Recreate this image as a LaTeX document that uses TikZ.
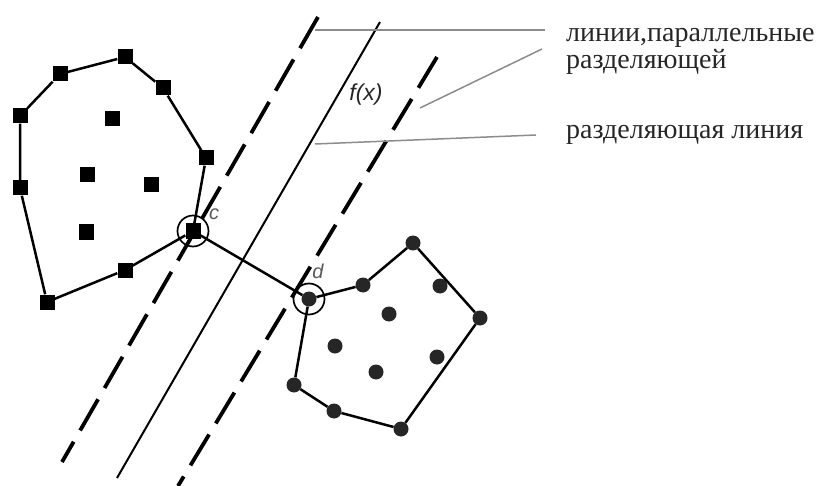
\documentclass[tikz,border=0pt]{standalone}
\usepackage{fontspec}
\setmainfont{Liberation Serif}
\newfontfamily\lblfont{Liberation Sans}
\usetikzlibrary{positioning}

\begin{document}
\begin{tikzpicture}[
  x=1pt, y=-1pt,
  sq/.style={fill=black, rectangle, minimum size=15pt, inner sep=0pt},
  dot/.style={fill=black!85, circle, minimum size=15pt, inner sep=0pt},
  ring/.style={draw, circle, line width=1.7pt, minimum size=31pt, inner sep=0pt},
  hull/.style={line width=2.5pt},
  sep/.style={line width=2pt},
  par/.style={line width=3.8pt, dash pattern=on 36pt off 13pt},
  lead/.style={line width=1.5pt, black!45},
  txt/.style={font=\fontsize{28}{30}\selectfont, anchor=base west, inner sep=0pt, text=black!85},
  lbl/.style={font=\lblfont\itshape\fontsize{20}{22}\selectfont, inner sep=0pt, text=black!65}
]
\useasboundingbox (0,0) rectangle (826,486);

% left class (squares)
\node[sq] (a1) at (125,57) {};
\node[sq] (a2) at (163,88) {};
\node[sq] (a3) at (206,158) {};
\node[sq] (c)  at (193,231) {};
\node[sq] (a5) at (125,270) {};
\node[sq] (a6) at (47,302) {};
\node[sq] (a7) at (20,188) {};
\node[sq] (a8) at (20,116) {};
\node[sq] (a9) at (60,74) {};
\node[sq] (ai1) at (112,119) {};
\node[sq] (ai2) at (87,175) {};
\node[sq] (ai3) at (151,185) {};
\node[sq] (ai4) at (86,232) {};

% right class (dots)
\node[dot] (d)  at (309,299) {};
\node[dot] (b2) at (363,285) {};
\node[dot] (b3) at (413,243) {};
\node[dot] (b4) at (480,318) {};
\node[dot] (b5) at (401,429) {};
\node[dot] (b6) at (334,411) {};
\node[dot] (b7) at (294,385) {};
\node[dot] (bi1) at (440,286) {};
\node[dot] (bi2) at (389,314) {};
\node[dot] (bi3) at (335,346) {};
\node[dot] (bi4) at (437,357) {};
\node[dot] (bi5) at (376,372) {};

\draw[hull] (a1) -- (a2) -- (a3) -- (c) -- (a5) -- (a6) -- (a7) -- (a8) -- (a9) -- (a1);
\draw[hull] (d) -- (b2) -- (b3) -- (b4) -- (b5) -- (b6) -- (b7) -- (d);
\draw[hull] (c) -- (d);

\node[ring] (cring) at (c) {};
\node[ring] (dring) at (d) {};
\node[lbl] (clbl) at (214,214) {c};
\node[lbl] (dlbl) at (318,271) {d};

% separating line and its parallels
\coordinate (p1t) at (318,17);
\coordinate (p1b) at (62,462);
\coordinate (ft)  at (380,22);
\coordinate (fb)  at (117,478);
\coordinate (p2t) at (437,57);
\coordinate (p2b) at (178,486);
\draw[par] (p1t) -- (p1b);
\draw[sep] (ft) -- (fb);
\draw[par] (p2t) -- (p2b);
\node[lbl, text=black!85, font=\lblfont\itshape\fontsize{23}{25}\selectfont] (fx) at (366,95) {f(x)};

% captions
\node[txt] (t1) at (566,42) {линии,параллельные};
\node[txt] (t2) at (566,69) {разделяющей};
\node[txt] (t3) at (566,139) {разделяющая линия};
\coordinate (l1) at (315,30);
\coordinate (l2) at (420,108);
\coordinate (l3) at (315,144);
\draw[lead] (l1) -- (545,30);
\draw[lead] (l2) -- (542,49);
\draw[lead] (l3) -- (536,135);
\end{tikzpicture}
\end{document}
